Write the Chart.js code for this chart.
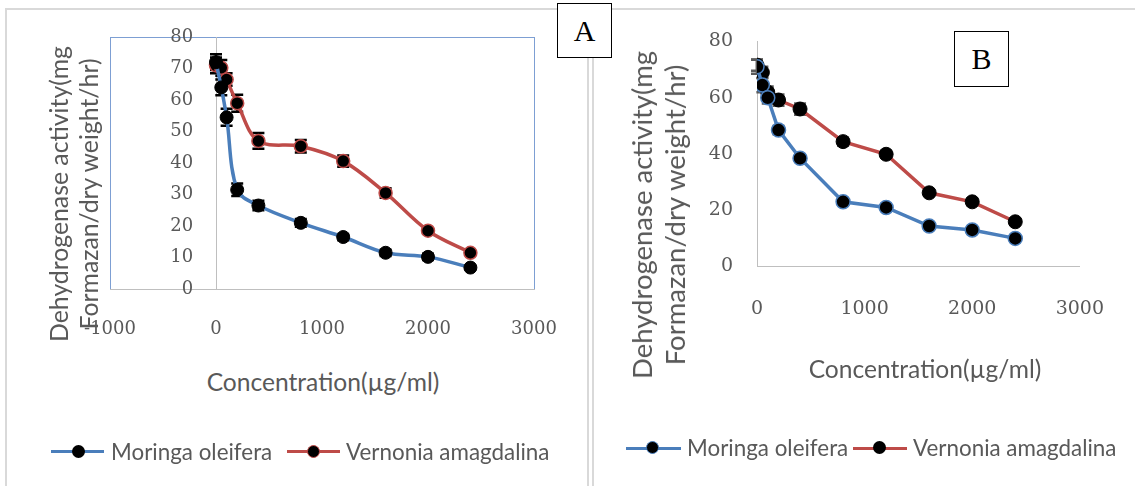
<!DOCTYPE html>
<html>
<head>
<meta charset="utf-8">
<script src="https://cdn.jsdelivr.net/npm/chart.js@4.4.1/dist/chart.umd.min.js"></script>
<style>
  body { margin: 0; width: 1135px; height: 486px; position: relative; overflow: hidden; background: #fff; font-family: Lato, sans-serif; color: #595959; }
  .frame { position: absolute; border: 2px solid #d9d9d9; box-sizing: border-box; }
  .tag { position: absolute; box-sizing: border-box; border: 1.5px solid #000; background: #fff; color: #000;
         font-family: "Liberation Serif", serif; font-size: 30px; display: flex; align-items: center; justify-content: center; z-index: 3; }
  canvas { position: absolute; top: 0; }
  .xtitle { position: absolute; transform: translate(-50%, -50%); white-space: nowrap; font-size: 24.6px; }
  .ytitle { position: absolute; transform: translate(-50%, -50%) rotate(-90deg); white-space: nowrap; text-align: center; }
  .lg-line { position: absolute; height: 3px; }
  .lg-dot { position: absolute; width: 13px; height: 13px; border-radius: 50%; background: #000; box-sizing: border-box; }
  .lg-text { position: absolute; font-size: 22.4px; line-height: 30px; white-space: nowrap; }
</style>
</head>
<body>
<div class="frame" style="left:5px; top:8px; width:584px; height:500px;"></div>
<div class="frame" style="left:592px; top:8px; width:560px; height:500px;"></div>

<canvas id="chartA" width="600" height="360" style="left:0px;"></canvas>
<canvas id="chartB" width="545" height="360" style="left:590px;"></canvas>

<div class="tag" style="left:557px; top:3px; width:55px; height:55px;">A</div>
<div class="tag" style="left:954px; top:31px; width:55px; height:56px;">B</div>

<!-- axis titles -->
<div class="xtitle" style="left:323px; top:381px;">Concentration(µg/ml)</div>
<div class="xtitle" style="left:925px; top:368px;">Concentration(µg/ml)</div>
<div class="ytitle" style="left:74px; top:194px; font-size:24.8px; line-height:30px;">Dehydrogenase activity(mg<br>Formazan/dry weight/hr)</div>
<div class="ytitle" style="left:658px; top:215px; font-size:27.5px; line-height:33px;">Dehydrogenase activity(mg<br>Formazan/dry weight/hr)</div>

<!-- legend A -->
<div class="lg-line" style="left:51px; top:450px; width:53px; background:#4a7ebb;"></div>
<div class="lg-dot" style="left:72px; top:445px;"></div>
<div class="lg-text" style="left:111px; top:437px;">Moringa oleifera</div>
<div class="lg-line" style="left:287px; top:450px; width:53px; background:#be4b48;"></div>
<div class="lg-dot" style="left:307px; top:445px; border:1.5px solid #be4b48;"></div>
<div class="lg-text" style="left:346px; top:437px;">Vernonia amagdalina</div>

<!-- legend B -->
<div class="lg-line" style="left:626px; top:447px; width:55px; background:#4a7ebb;"></div>
<div class="lg-dot" style="left:646px; top:441px; border:1.5px solid #4a7ebb;"></div>
<div class="lg-text" style="left:687px; top:433px;">Moringa oleifera</div>
<div class="lg-line" style="left:853px; top:447px; width:54px; background:#be4b48;"></div>
<div class="lg-dot" style="left:873px; top:441px;"></div>
<div class="lg-text" style="left:913px; top:433px;">Vernonia amagdalina</div>

<script>
// concentrations (µg/ml)
const conc = [0, 50, 100, 200, 400, 800, 1200, 1600, 2000, 2400];

// panel A
const moringaA = [72, 64, 54.5, 31.5, 26.5, 21, 16.5, 11.5, 10.2, 6.8];
const vernoniaA = [71, 70.2, 66.5, 59, 47, 45.3, 40.6, 30.5, 18.5, 11.5];
const moringaErrA = [2.5, 2.5, 2.7, 2, 1.5, 1.2, 1, 1, 1, 0.5];
const vernoniaErrA = [2.5, 2.5, 2, 2.7, 2.5, 2, 1.8, 1.5, 0.8, 0.5];

// panel B
const moringaB = [71, 64.5, 60, 48.5, 38.5, 23, 21, 14.4, 13, 10];
const vernoniaB = [71.6, 69, 62, 59.2, 56, 44.4, 39.9, 26.2, 23, 15.9];
const moringaErrB = [2.5, 2.5, 2, 1.5, 1, 0.8, 0.8, 0.8, 0.8, 0.5];
const vernoniaErrB = [2, 2, 2, 2, 2, 1.5, 1.2, 1, 1.2, 1];

// tick labels
const xTicksA = [-1000, 0, 1000, 2000, 3000];
const yTicksA = [0, 10, 20, 30, 40, 50, 60, 70, 80];
const xTicksB = [0, 1000, 2000, 3000];
const yTicksB = [0, 20, 40, 60, 80];

const blue = "#4a7ebb";
const red = "#be4b48";
const axisGrey = "#bfbfbf";
const tickGrey = "#595959";

function points(ys) {
  return conc.map((c, i) => ({ x: c, y: ys[i] }));
}

// vertical error bars with caps, drawn under lines and markers
const errorBars = {
  id: "errorBars",
  beforeDatasetsDraw(chart, args, opts) {
    const { ctx } = chart;
    const x = chart.scales.x;
    const y = chart.scales.y;
    ctx.save();
    ctx.strokeStyle = opts.color;
    ctx.lineWidth = opts.width;
    chart.data.datasets.forEach((ds) => {
      if (!ds.errors) return;
      ds.data.forEach((p, j) => {
        const px = x.getPixelForValue(p.x);
        const top = y.getPixelForValue(p.y + ds.errors[j]);
        const bot = y.getPixelForValue(p.y - ds.errors[j]);
        ctx.beginPath();
        ctx.moveTo(px, top);
        ctx.lineTo(px, bot);
        ctx.moveTo(px - opts.cap, top);
        ctx.lineTo(px + opts.cap, top);
        ctx.moveTo(px - opts.cap, bot);
        ctx.lineTo(px + opts.cap, bot);
        ctx.stroke();
      });
    });
    ctx.restore();
  },
};

// blue plot-area frame (panel A only)
const plotFrame = {
  id: "plotFrame",
  beforeDraw(chart, args, opts) {
    if (!opts.color) return;
    const { ctx, chartArea: a } = chart;
    ctx.save();
    ctx.strokeStyle = opts.color;
    ctx.lineWidth = 1;
    ctx.strokeRect(Math.round(a.left) + 0.5, Math.round(a.top) + 0.5, Math.round(a.right - a.left), Math.round(a.bottom - a.top));
    ctx.restore();
  },
};

function tickSetter(list) {
  return (scale) => {
    scale.ticks = list.map((v) => ({ value: v }));
  };
}

const plain = (v) => String(v);
// y labels of panel A sit at x = 0; pad them off the axis with figure spaces
const padded = (v) => String(v) + "\u2007\u2007";

// Panel A
new Chart(document.getElementById("chartA"), {
  type: "line",
  data: {
    datasets: [
      {
        label: "Moringa oleifera",
        data: points(moringaA),
        errors: moringaErrA,
        borderColor: blue,
        borderWidth: 3.5,
        tension: 0.35,
        pointRadius: 6.5,
        pointBackgroundColor: "#000",
        pointBorderColor: "#000",
        pointBorderWidth: 1,
      },
      {
        label: "Vernonia amagdalina",
        data: points(vernoniaA),
        errors: vernoniaErrA,
        borderColor: red,
        borderWidth: 3.5,
        tension: 0.35,
        pointRadius: 6.5,
        pointBackgroundColor: "#000",
        pointBorderColor: red,
        pointBorderWidth: 1.5,
      },
    ],
  },
  options: {
    responsive: false,
    animation: false,
    layout: { padding: { left: 110, top: 37, right: 66, bottom: 11 } },
    plugins: {
      legend: { display: false },
      tooltip: { enabled: false },
      errorBars: { color: "#000", width: 2.5, cap: 6 },
      plotFrame: { color: "#7d9fd3" },
    },
    scales: {
      x: {
        type: "linear",
        min: -1000,
        max: 3000,
        afterBuildTicks: tickSetter(xTicksA),
        afterFit: (s) => { s.height = 60; },
        grid: { color: "transparent", drawTicks: false },
        border: { color: axisGrey, width: 1 },
        ticks: { padding: 30, color: tickGrey, callback: plain, font: { family: "DejaVu Serif", size: 18 } },
      },
      y: {
        type: "linear",
        position: { x: 0 },
        min: 0,
        max: 80,
        afterBuildTicks: tickSetter(yTicksA),
        grid: { color: "transparent", drawTicks: false },
        border: { color: axisGrey, width: 1 },
        ticks: { padding: 24, color: tickGrey, callback: padded, font: { family: "DejaVu Serif", size: 18 } },
      },
    },
  },
  plugins: [errorBars, plotFrame],
});

// Panel B
new Chart(document.getElementById("chartB"), {
  type: "line",
  data: {
    datasets: [
      {
        label: "Moringa oleifera",
        data: points(moringaB),
        errors: moringaErrB,
        borderColor: blue,
        borderWidth: 3.5,
        tension: 0,
        pointRadius: 7,
        pointBackgroundColor: "#000",
        pointBorderColor: blue,
        pointBorderWidth: 1.5,
      },
      {
        label: "Vernonia amagdalina",
        data: points(vernoniaB),
        errors: vernoniaErrB,
        borderColor: red,
        borderWidth: 3.5,
        tension: 0,
        pointRadius: 7,
        pointBackgroundColor: "#000",
        pointBorderColor: "#000",
        pointBorderWidth: 1,
      },
    ],
  },
  options: {
    responsive: false,
    animation: false,
    layout: { padding: { left: 107, top: 41.5, right: 40, bottom: 33.5 } },
    plugins: {
      legend: { display: false },
      tooltip: { enabled: false },
      errorBars: { color: "#5a5a5a", width: 2.5, cap: 6 },
      plotFrame: { color: null },
    },
    scales: {
      x: {
        type: "linear",
        min: 0,
        max: 3000,
        afterBuildTicks: tickSetter(xTicksB),
        afterFit: (s) => { s.height = 60; },
        grid: { color: "transparent", drawTicks: false },
        border: { color: axisGrey, width: 1 },
        ticks: { padding: 31, color: tickGrey, callback: plain, font: { family: "DejaVu Serif", size: 19 } },
      },
      y: {
        type: "linear",
        position: "left",
        min: 0,
        max: 80,
        afterBuildTicks: tickSetter(yTicksB),
        afterFit: (s) => { s.width = 60; },
        grid: { color: "transparent", drawTicks: false },
        border: { color: axisGrey, width: 1 },
        ticks: { padding: 24, color: tickGrey, callback: plain, font: { family: "DejaVu Serif", size: 19 } },
      },
    },
  },
  plugins: [errorBars, plotFrame],
});
</script>
</body>
</html>
